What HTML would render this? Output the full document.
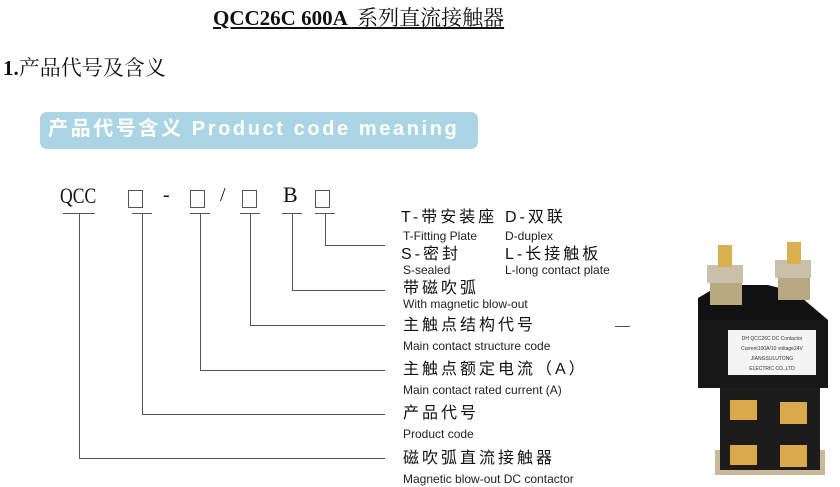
<!DOCTYPE html>
<html><head><meta charset="utf-8"><style>
body{margin:0;width:840px;height:487px;background:#fff;position:relative;overflow:hidden;font-family:"Liberation Sans","Noto Sans CJK SC",sans-serif;color:#111}
.a{position:absolute;white-space:nowrap;line-height:1}
.cn{font-size:16px;letter-spacing:3px;font-weight:normal;color:#111}
.en{font-size:12px;color:#222}
.ser{font-family:"Liberation Serif","Noto Serif CJK SC",serif}
</style></head><body>
<div class="a ser" style="left:213px;top:8px;font-size:21px;font-weight:bold;text-decoration:underline">QCC26C 600A <span style="font-weight:normal">&nbsp;系列直流接触器</span></div>
<div class="a ser" style="left:3px;top:58px;font-size:21px"><b>1.</b>产品代号及含义</div>
<div class="a" style="left:40px;top:112px;width:438px;height:37px;background:#abd4e4;border-radius:7px"></div>
<div class="a" style="left:48px;top:119px;font-size:20px;font-weight:bold;color:#fff;letter-spacing:2.6px">产品代号含义 Product code meaning</div>
<div class="a ser" style="left:60px;top:185px;font-size:22px;transform:scaleX(0.8);transform-origin:left">QCC</div>
<div class="a ser" style="left:163px;top:185px;font-size:20px">-</div>
<div class="a ser" style="left:220px;top:185px;font-size:20px">/</div>
<div class="a ser" style="left:283px;top:184px;font-size:22px">B</div>
<svg class="a" style="left:0;top:0" width="840" height="487">
<g fill="none" stroke="#555" stroke-width="1">
<rect x="128.5" y="190.5" width="14" height="17"/><rect x="190.5" y="190.5" width="14" height="17"/>
<rect x="242.5" y="190.5" width="14" height="17"/><rect x="315.5" y="190.5" width="14" height="17"/>
<path d="M63 213.5H95M132 213.5H152M190 213.5H210M240 213.5H260M282 213.5H302M315 213.5H335"/>
<path d="M79.5 213V458.5H385M142.5 213V414.5H385M200.5 213V370.5H385M250.5 213V325.5H385M292.5 213V290.5H385M325.5 213V245.5H385"/>
<path d="M615 326.5H630"/>
</g>
</svg>
<div class="a cn" style="left:401px;top:210px">T-带安装座</div><div class="a cn" style="left:505px;top:210px">D-双联</div>
<div class="a en" style="left:403px;top:230px">T-Fitting Plate</div><div class="a en" style="left:505px;top:230px">D-duplex</div>
<div class="a cn" style="left:401px;top:247px">S-密封</div><div class="a cn" style="left:505px;top:247px">L-长接触板</div>
<div class="a en" style="left:403px;top:264px">S-sealed</div><div class="a en" style="left:505px;top:264px">L-long contact plate</div>
<div class="a cn" style="left:403px;top:281px">带磁吹弧</div>
<div class="a en" style="left:403px;top:298px">With magnetic blow-out</div>
<div class="a cn" style="left:403px;top:318px">主触点结构代号</div>
<div class="a en" style="left:403px;top:340px">Main contact structure code</div>
<div class="a cn" style="left:403px;top:362px">主触点额定电流（A）</div>
<div class="a en" style="left:403px;top:384px">Main contact rated current (A)</div>
<div class="a cn" style="left:403px;top:406px">产品代号</div>
<div class="a en" style="left:403px;top:428px">Product code</div>
<div class="a cn" style="left:403px;top:451px">磁吹弧直流接触器</div>
<div class="a en" style="left:403px;top:473px">Magnetic blow-out DC contactor</div>
<svg class="a" style="left:660px;top:230px" width="180" height="257">
<rect x="55" y="220" width="110" height="25" fill="#c9b89a"/>
<rect x="60" y="150" width="100" height="90" fill="#1c1c1c"/>
<rect x="70" y="170" width="27" height="20" fill="#d9a94a"/><rect x="120" y="172" width="27" height="22" fill="#d9a94a"/>
<rect x="70" y="215" width="27" height="20" fill="#d9a94a"/><rect x="120" y="215" width="27" height="22" fill="#d9a94a"/>
<path d="M38 68L60 55H108L135 62L168 90V158H38Z" fill="#111"/>
<rect x="38" y="90" width="130" height="68" fill="#181818"/>
<rect x="68" y="100" width="88" height="45" fill="#f4f4f4"/>
<text x="112" y="110" font-size="5" text-anchor="middle" fill="#333" font-family="Liberation Sans">DH QCC26C DC Contactor</text>
<text x="112" y="120" font-size="5" text-anchor="middle" fill="#333" font-family="Liberation Sans">Current100A/10 voltage24V</text>
<text x="112" y="130" font-size="5" text-anchor="middle" fill="#333" font-family="Liberation Sans">JIANGSULUTONG</text>
<text x="112" y="140" font-size="5" text-anchor="middle" fill="#333" font-family="Liberation Sans">ELECTRIC CO.,LTD</text>
<rect x="50" y="50" width="32" height="25" fill="#b8a880"/><rect x="47" y="35" width="36" height="18" fill="#c8c0a8"/>
<rect x="58" y="15" width="14" height="22" fill="#d8b050"/>
<rect x="118" y="45" width="32" height="25" fill="#b8a880"/><rect x="115" y="30" width="36" height="18" fill="#c8c0a8"/>
<rect x="127" y="12" width="14" height="22" fill="#d8b050"/>
</svg>
</body></html>
